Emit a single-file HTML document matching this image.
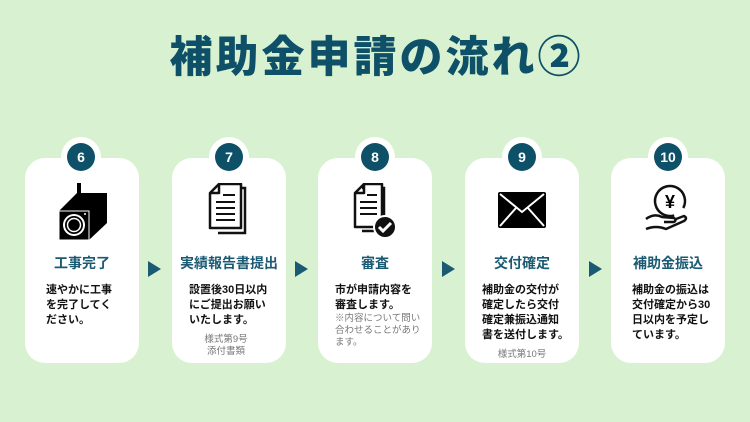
<!DOCTYPE html>
<html><head><meta charset="utf-8"><style>
*{margin:0;padding:0;box-sizing:border-box}
body{width:750px;height:422px;background:#d8f2d1;position:relative;overflow:hidden;font-family:"Liberation Sans","Noto Sans CJK JP",sans-serif}
.title{position:absolute;left:0;width:750px;top:31px;text-align:center;font-size:43px;font-weight:900;color:#0e5068;letter-spacing:3px;line-height:54px;padding-left:3px}
.card{position:absolute;top:158px;width:114px;height:205px;background:#fff;border-radius:20px}
.ring{position:absolute;top:137px;width:40px;height:40px;border-radius:50%;background:#fff}
.badge{position:absolute;top:143px;width:28px;height:28px;border-radius:50%;background:#0e5068;color:#fff;font-weight:bold;font-size:14px;text-align:center;line-height:28px}
.h{position:absolute;top:253px;width:114px;text-align:center;color:#1a5a72;font-weight:bold;font-size:14px;line-height:20px}
.t{position:absolute;top:283px;font-size:11px;font-weight:bold;line-height:15px;color:#111;white-space:nowrap}
.s{font-size:9.5px;color:#777;font-weight:normal;line-height:12px}
.arr{position:absolute;top:261px;width:0;height:0;border-top:8px solid transparent;border-bottom:8px solid transparent;border-left:13px solid #1a5a72}
.ic{position:absolute;top:183px}
</style></head><body>
<div class="title">補助金申請の流れ②</div>

<div class="card" style="left:25px"></div>
<div class="card" style="left:172px"></div>
<div class="card" style="left:318px"></div>
<div class="card" style="left:465px"></div>
<div class="card" style="left:611px"></div>

<div class="ring" style="left:61px"></div><div class="badge" style="left:67px">6</div>
<div class="ring" style="left:209px"></div><div class="badge" style="left:215px">7</div>
<div class="ring" style="left:355px"></div><div class="badge" style="left:361px">8</div>
<div class="ring" style="left:502px"></div><div class="badge" style="left:508px">9</div>
<div class="ring" style="left:648px"></div><div class="badge" style="left:654px">10</div>

<svg class="ic" style="left:57px" width="50" height="57" viewBox="0 0 50 57">
<rect x="20" y="0" width="4" height="10" fill="#000"/>
<polygon points="2,28 20,10 50,10 50,40 32,57 2,57" fill="#000"/>
<rect x="2" y="28" width="30" height="29" fill="#000" stroke="#fff" stroke-width="1"/>
<circle cx="17" cy="42" r="11" fill="#fff"/><circle cx="17" cy="42" r="9" fill="#000"/><circle cx="17" cy="42" r="6.5" fill="none" stroke="#fff" stroke-width="1.5"/>
<circle cx="28" cy="31" r="1" fill="#fff"/>
</svg>
<svg class="ic" style="left:207px" width="44" height="52" viewBox="0 0 44 52">
<path d="M11 5 H38 V50 H11" fill="none" stroke="#111" stroke-width="2.5"/>
<path d="M12 1 H34 V45 H3 V10 Z M3 10 H12 V1" fill="#fff" stroke="#111" stroke-width="2.5" stroke-linejoin="round"/>
<path d="M16 12H28 M9 19H28 M9 25H28 M9 31H28 M9 37H28" stroke="#111" stroke-width="2"/>
</svg>
<svg class="ic" style="left:352px" width="48" height="55" viewBox="0 0 48 55">
<path d="M10 5 H32 V48 H10" fill="none" stroke="#111" stroke-width="2.5"/>
<path d="M12 1 H30 V44 H3 V10 Z M3 10 H12 V1" fill="#fff" stroke="#111" stroke-width="2.5" stroke-linejoin="round"/>
<path d="M15 12H25 M8 19H25 M8 25H25 M8 31H25" stroke="#111" stroke-width="2"/>
<circle cx="33" cy="44" r="11" fill="#111" stroke="#fff" stroke-width="2"/>
<path d="M27 44 L31 48 L39 40" fill="none" stroke="#fff" stroke-width="3"/>
</svg>
<svg class="ic" style="left:498px;top:192px" width="48" height="36" viewBox="0 0 48 36">
<rect x="0" y="0" width="48" height="36" rx="2" fill="#000"/>
<path d="M2 2 L24 20 L46 2 M2 34 L18 16 M46 34 L30 16" fill="none" stroke="#fff" stroke-width="2"/>
</svg>
<svg class="ic" style="left:644px" width="48" height="50" viewBox="0 0 48 50">
<circle cx="26" cy="18" r="15" fill="none" stroke="#111" stroke-width="2.5" stroke-dasharray="70 12" transform="rotate(120 26 18)"/>
<text x="26" y="25" text-anchor="middle" font-size="18" font-weight="bold" font-family="Liberation Sans,sans-serif">¥</text>
<path d="M2 36 Q10 30 18 34 L30 35 Q33 37 30 39 L20 39 M2 46 Q12 42 22 46 L40 38 Q44 35 40 33 L32 36" fill="none" stroke="#111" stroke-width="2.5" stroke-linejoin="round"/>
</svg>

<div class="h" style="left:25px">工事完了</div>
<div class="h" style="left:172px">実績報告書提出</div>
<div class="h" style="left:318px">審査</div>
<div class="h" style="left:465px">交付確定</div>
<div class="h" style="left:611px">補助金振込</div>

<div class="arr" style="left:148px"></div>
<div class="arr" style="left:295px"></div>
<div class="arr" style="left:442px"></div>
<div class="arr" style="left:589px"></div>

<div class="t" style="left:46px">速やかに工事<br>を完了してく<br>ださい。</div>
<div class="t" style="left:189px">設置後30日以内<br>にご提出お願い<br>いたします。<div class="s" style="text-align:center;margin-top:6px;width:80px;margin-left:-3px">様式第9号<br>添付書類</div></div>
<div class="t" style="left:335px">市が申請内容を<br>審査します。<div class="s">※内容について問い<br>合わせることがあり<br>ます。</div></div>
<div class="t" style="left:482px">補助金の交付が<br>確定したら交付<br>確定兼振込通知<br>書を送付します。<div class="s" style="text-align:center;margin-top:6px;width:80px">様式第10号</div></div>
<div class="t" style="left:632px">補助金の振込は<br>交付確定から30<br>日以内を予定し<br>ています。</div>
</body></html>
